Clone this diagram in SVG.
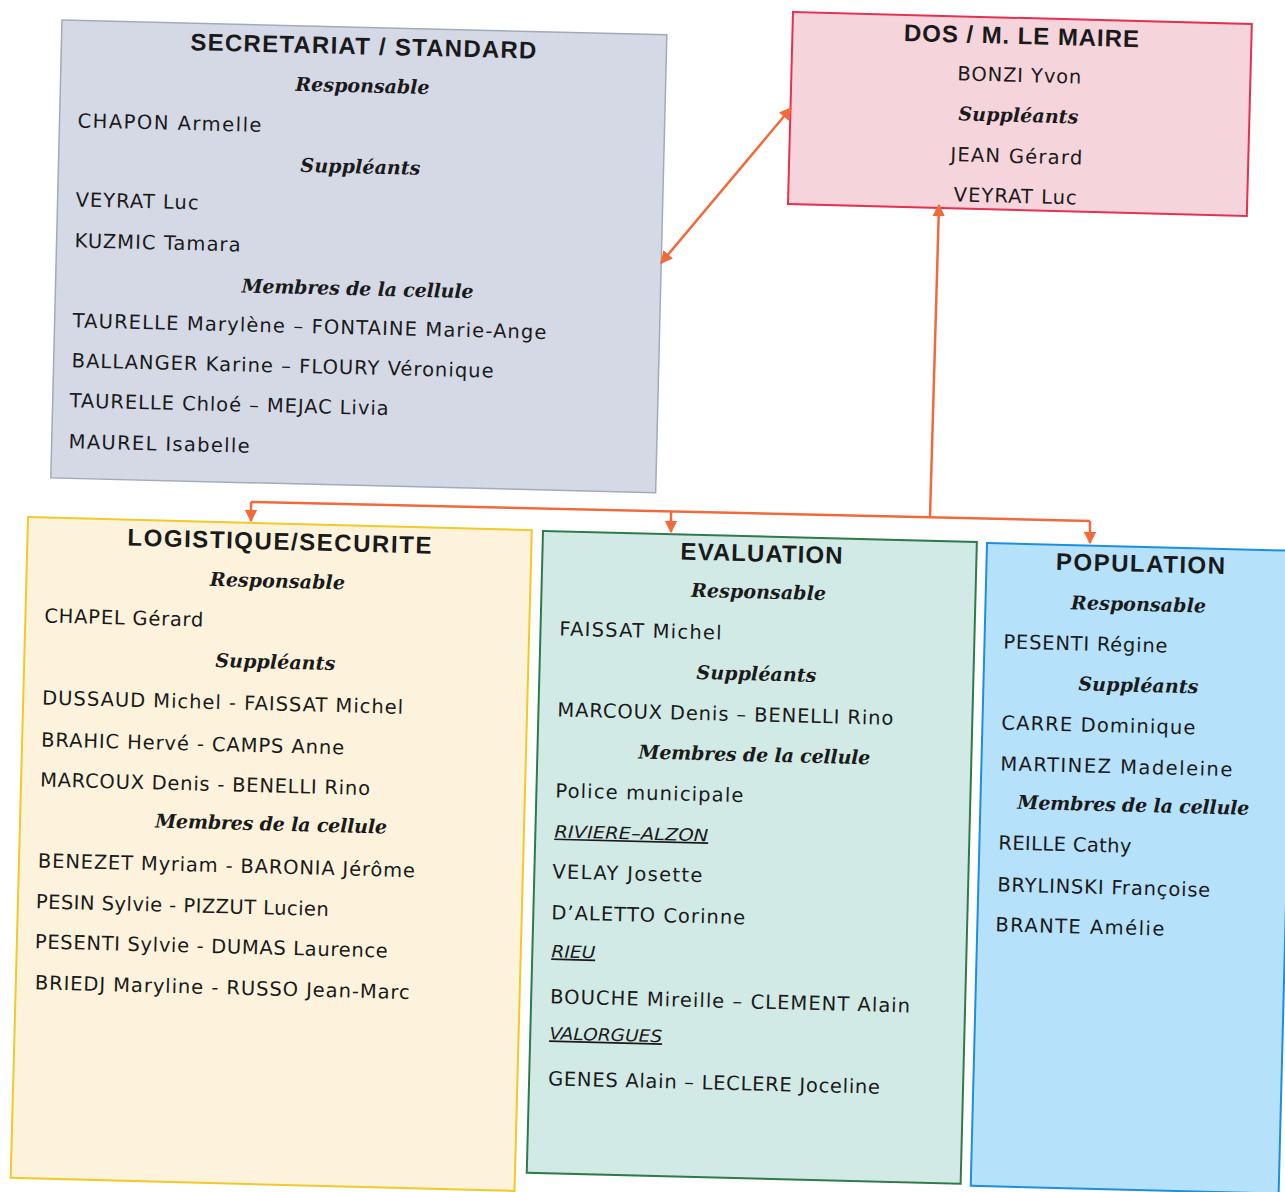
<svg xmlns="http://www.w3.org/2000/svg" width="1285" height="1192" viewBox="0 0 1285 1192">
<style>
.t{font-family:"Liberation Sans",Arial,sans-serif;font-weight:bold;font-size:24px;fill:#1a1a1a;text-anchor:middle}
.h{font-family:"DejaVu Serif","Liberation Serif",serif;font-weight:bold;font-style:italic;font-size:19px;fill:#1a1a1a;text-anchor:middle}
.n{font-family:"DejaVu Sans",Verdana,sans-serif;font-size:19.5px;fill:#1a1a1a}
.nc{font-family:"DejaVu Sans",Verdana,sans-serif;font-size:19.5px;fill:#1a1a1a;text-anchor:middle}
.u{font-family:"DejaVu Sans",Verdana,sans-serif;font-style:italic;font-size:17px;fill:#1a1a1a;text-decoration:underline}
.c{stroke:#f26a3a;stroke-width:2.5;fill:none}
</style>
<defs>
<marker id="ah" viewBox="0 0 10 10" refX="9" refY="5" markerWidth="5" markerHeight="5" orient="auto-start-reverse" markerUnits="strokeWidth">
<path d="M0,0 L10,5 L0,10 z" fill="#f26a3a"/>
</marker>
</defs>
<rect width="1285" height="1192" fill="#ffffff"/>

<g id="secretariat" transform="translate(62,20) rotate(1.4)">
<rect x="0" y="0" width="605" height="458" fill="#d5d9e6" stroke="#a3aabb" stroke-width="1.5"/>
<text class="t" x="302" y="27" textLength="346">SECRETARIAT / STANDARD</text>
<text class="h" x="302" y="65" textLength="134">Responsable</text>
<text class="n" x="18" y="107" textLength="184">CHAPON Armelle</text>
<text class="h" x="302" y="146" textLength="120">Suppléants</text>
<text class="n" x="18" y="186" textLength="123">VEYRAT Luc</text>
<text class="n" x="18" y="227" textLength="166">KUZMIC Tamara</text>
<text class="h" x="302" y="268" textLength="232">Membres de la cellule</text>
<text class="n" x="18" y="307" textLength="474">TAURELLE Marylène – FONTAINE Marie-Ange</text>
<text class="n" x="18" y="347" textLength="422">BALLANGER Karine – FLOURY Véronique</text>
<text class="n" x="17" y="387" textLength="319">TAURELLE Chloé – MEJAC Livia</text>
<text class="n" x="17" y="428" textLength="181">MAUREL Isabelle</text>
</g>

<g id="dos" transform="translate(793,12) rotate(1.5)">
<rect x="0" y="0" width="459" height="192" fill="#f6d4dc" stroke="#e5304f" stroke-width="2"/>
<text class="t" x="229" y="26" textLength="235">DOS / M. LE MAIRE</text>
<text class="nc" x="228" y="64" textLength="124">BONZI Yvon</text>
<text class="h" x="228" y="104" textLength="120">Suppléants</text>
<text class="nc" x="227" y="145" textLength="132">JEAN Gérard</text>
<text class="nc" x="227" y="185" textLength="123">VEYRAT Luc</text>
</g>

<g id="logistique" transform="translate(28,517) rotate(1.5)">
<rect x="0" y="0" width="504" height="661" fill="#fdf3dc" stroke="#f2c928" stroke-width="2"/>
<text class="t" x="252" y="26" textLength="304">LOGISTIQUE/SECURITE</text>
<text class="h" x="251" y="64" textLength="135">Responsable</text>
<text class="n" x="19" y="105" textLength="159">CHAPEL Gérard</text>
<text class="h" x="251" y="145" textLength="120">Suppléants</text>
<text class="n" x="19" y="187" textLength="361">DUSSAUD Michel - FAISSAT Michel</text>
<text class="n" x="19" y="229" textLength="303">BRAHIC Hervé - CAMPS Anne</text>
<text class="n" x="19" y="269" textLength="330">MARCOUX Denis - BENELLI Rino</text>
<text class="h" x="251" y="307" textLength="232">Membres de la cellule</text>
<text class="n" x="19" y="350" textLength="377">BENEZET Myriam - BARONIA Jérôme</text>
<text class="n" x="18" y="391" textLength="293">PESIN Sylvie - PIZZUT Lucien</text>
<text class="n" x="18" y="431" textLength="353">PESENTI Sylvie - DUMAS Laurence</text>
<text class="n" x="19" y="472" textLength="375">BRIEDJ Maryline - RUSSO Jean-Marc</text>
</g>

<g id="evaluation" transform="translate(543,531) rotate(1.45)">
<rect x="0" y="0" width="434" height="642" fill="#d2eae6" stroke="#2f7a4a" stroke-width="2"/>
<text class="t" x="219" y="25" textLength="162">EVALUATION</text>
<text class="h" x="217" y="62" textLength="135">Responsable</text>
<text class="n" x="19" y="104" textLength="162">FAISSAT Michel</text>
<text class="h" x="217" y="144" textLength="120">Suppléants</text>
<text class="n" x="19" y="185" textLength="336">MARCOUX Denis – BENELLI Rino</text>
<text class="h" x="217" y="225" textLength="232">Membres de la cellule</text>
<text class="n" x="19" y="266" textLength="188">Police municipale</text>
<text class="u" x="19" y="306" textLength="154" lengthAdjust="spacingAndGlyphs">RIVIERE–ALZON</text>
<text class="n" x="18" y="347" textLength="150">VELAY Josette</text>
<text class="n" x="18" y="388" textLength="194">D’ALETTO Corinne</text>
<text class="u" x="19" y="426" textLength="44" lengthAdjust="spacingAndGlyphs">RIEU</text>
<text class="n" x="19" y="472" textLength="360">BOUCHE Mireille – CLEMENT Alain</text>
<text class="u" x="19" y="508" textLength="113" lengthAdjust="spacingAndGlyphs">VALORGUES</text>
<text class="n" x="19" y="554" textLength="332">GENES Alain – LECLERE Joceline</text>
</g>

<g id="population" transform="translate(987,543) rotate(1.45)">
<rect x="0" y="0" width="308" height="643" fill="#b5e1fa" stroke="#1b8fe0" stroke-width="2"/>
<text class="t" x="154" y="25" textLength="169">POPULATION</text>
<text class="h" x="153" y="64" textLength="135">Responsable</text>
<text class="n" x="19" y="105" textLength="164">PESENTI Régine</text>
<text class="h" x="155" y="145" textLength="120">Suppléants</text>
<text class="n" x="19" y="186" textLength="194">CARRE Dominique</text>
<text class="n" x="19" y="227" textLength="232">MARTINEZ Madeleine</text>
<text class="h" x="153" y="265" textLength="232">Membres de la cellule</text>
<text class="n" x="19" y="306" textLength="133">REILLE Cathy</text>
<text class="n" x="19" y="348" textLength="213">BRYLINSKI Françoise</text>
<text class="n" x="18" y="388" textLength="169">BRANTE Amélie</text>
</g>

<g id="connectors">
<line class="c" x1="661" y1="263" x2="791" y2="108" marker-start="url(#ah)" marker-end="url(#ah)"/>
<line class="c" x1="930" y1="517" x2="939" y2="205" marker-end="url(#ah)"/>
<line class="c" x1="251" y1="502" x2="1090" y2="521"/>
<line class="c" x1="251" y1="502" x2="251" y2="521" marker-end="url(#ah)"/>
<line class="c" x1="671" y1="511" x2="671" y2="532" marker-end="url(#ah)"/>
<line class="c" x1="1090" y1="521" x2="1090" y2="543" marker-end="url(#ah)"/>
</g>
</svg>
